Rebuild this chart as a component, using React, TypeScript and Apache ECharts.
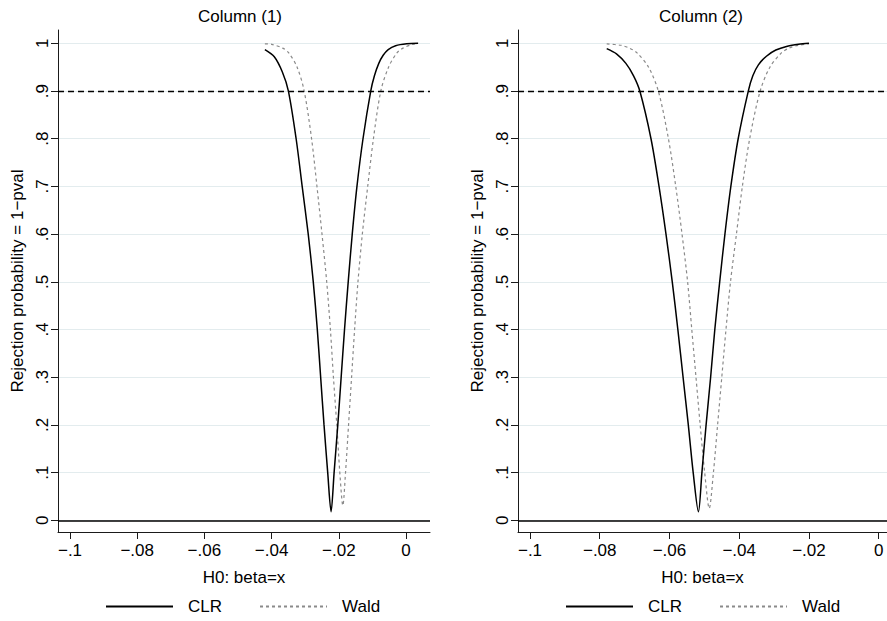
import React, { useEffect, useRef } from 'react';
import * as echarts from 'echarts';

// ---- data ----
const panelTitles = ['Column (1)', 'Column (2)'];
const seriesNames = ['CLR', 'Wald'];
const xTicks = [-0.1, -0.08, -0.06, -0.04, -0.02, 0];
const yTicks = [0, 0.1, 0.2, 0.3, 0.4, 0.5, 0.6, 0.7, 0.8, 0.9, 1];
const refLines = [0, 0.9];
const xTitle = 'H0: beta=x';
const yTitle = 'Rejection probability = 1\u2212pval';

const clr1: [number, number][] = [
  [-0.042, 0.987], [-0.0392, 0.972], [-0.0368, 0.94], [-0.035, 0.9], [-0.0327, 0.8],
  [-0.0309, 0.7], [-0.0291, 0.6], [-0.0276, 0.5], [-0.0264, 0.4], [-0.0254, 0.3],
  [-0.0244, 0.2], [-0.0233, 0.1], [-0.0223, 0.018], [-0.0214, 0.1], [-0.0203, 0.2],
  [-0.0193, 0.3], [-0.0183, 0.4], [-0.0172, 0.5], [-0.016, 0.6], [-0.0146, 0.7],
  [-0.0128, 0.8], [-0.0105, 0.9], [-0.0094, 0.932], [-0.0081, 0.958], [-0.0068, 0.975],
  [-0.0053, 0.987], [-0.0031, 0.995], [0.0002, 0.999], [0.0036, 1.0],
];
const wald1: [number, number][] = [
  [-0.042, 0.999], [-0.04, 0.998], [-0.0367, 0.99], [-0.0349, 0.98], [-0.0324, 0.95],
  [-0.0303, 0.9], [-0.0281, 0.8], [-0.0265, 0.7], [-0.0250, 0.6], [-0.0236, 0.5],
  [-0.0225, 0.4], [-0.0216, 0.3], [-0.0206, 0.2], [-0.0197, 0.1], [-0.0188, 0.031],
  [-0.018, 0.1], [-0.0171, 0.2], [-0.0162, 0.3], [-0.0153, 0.4], [-0.0143, 0.5],
  [-0.013, 0.6], [-0.0114, 0.7], [-0.0097, 0.8], [-0.0075, 0.9], [-0.0052, 0.95],
  [-0.0027, 0.98], [-0.0009, 0.99], [0.002, 0.998], [0.0036, 0.999],
];
const clr2: [number, number][] = [
  [-0.078, 0.989], [-0.0752, 0.978], [-0.0725, 0.958], [-0.0703, 0.932], [-0.0685, 0.9],
  [-0.0653, 0.8], [-0.063, 0.7], [-0.061, 0.6], [-0.0592, 0.5], [-0.0576, 0.4],
  [-0.0561, 0.3], [-0.0546, 0.2], [-0.0532, 0.1], [-0.0517, 0.018], [-0.0507, 0.1],
  [-0.0495, 0.2], [-0.0482, 0.3], [-0.047, 0.4], [-0.0456, 0.5], [-0.0441, 0.6],
  [-0.0424, 0.7], [-0.0403, 0.8], [-0.0374, 0.9], [-0.0361, 0.932], [-0.0345, 0.955],
  [-0.0322, 0.973], [-0.0295, 0.986], [-0.0262, 0.994], [-0.023, 0.998], [-0.02, 1.0],
];
const wald2: [number, number][] = [
  [-0.078, 0.999], [-0.074, 0.996], [-0.0715, 0.99], [-0.0693, 0.98], [-0.066, 0.95],
  [-0.0632, 0.9], [-0.0603, 0.8], [-0.0582, 0.7], [-0.0564, 0.6], [-0.0548, 0.5],
  [-0.0536, 0.4], [-0.0524, 0.3], [-0.0512, 0.2], [-0.0499, 0.1], [-0.0486, 0.025],
  [-0.0474, 0.1], [-0.0462, 0.2], [-0.045, 0.3], [-0.0438, 0.4], [-0.0425, 0.5],
  [-0.0408, 0.6], [-0.0391, 0.7], [-0.037, 0.8], [-0.034, 0.9], [-0.0312, 0.95],
  [-0.0279, 0.98], [-0.0257, 0.99], [-0.023, 0.996], [-0.02, 0.999],
];
const panelData = [
  [clr1, wald1],
  [clr2, wald2],
];

// ---- layout / style ----
const FONT = '"Liberation Sans", Arial, Helvetica, sans-serif';
const FS = 17;
const grids = [
  { left: 58, top: 30, width: 372, height: 502 },
  { left: 518, top: 30, width: 369, height: 502 },
];
const xRanges = [
  [-0.10357, 0.00714],
  [-0.10344, 0.00238],
];
const yRange = [-0.0245, 1.028];
const titleCenters = [235, 696];
const legendLefts = [105, 565];

const fmt = (v: number) => {
  if (Math.abs(v) < 1e-9) return '0';
  const s = String(+Math.abs(v).toFixed(2)).replace(/^0/, '');
  return (v < 0 ? '\u2212' : '') + s;
};

export default function App() {
  const ref = useRef<HTMLDivElement>(null);
  useEffect(() => {
    if (!ref.current) return;
    const chart = echarts.init(ref.current, undefined, { renderer: 'svg' });
    const axisColor = '#1a1a1a';
    const option: any = {
      animation: false,
      backgroundColor: '#fff',
      textStyle: { fontFamily: FONT },
      title: panelTitles.map((t, i) => ({
        text: t,
        left: titleCenters[i],
        top: 3,
        textAlign: 'center',
        textStyle: { fontSize: FS, fontWeight: 'normal', color: '#000', fontFamily: FONT },
      })),
      legend: legendLefts.map((l) => ({
        left: l,
        top: 598,
        padding: 0,
        itemWidth: 67,
        itemHeight: 14,
        itemGap: 37,
        selectedMode: false,
        data: seriesNames,
        itemStyle: { opacity: 0, borderWidth: 0 },
        textStyle: { fontSize: FS, color: '#000', fontFamily: FONT, padding: [0, 0, 0, 10] },
      })),
      grid: grids,
      xAxis: grids.map((_, i) => ({
        type: 'value',
        gridIndex: i,
        min: xRanges[i][0],
        max: xRanges[i][1],
        name: xTitle,
        nameLocation: 'middle',
        nameGap: 37,
        nameTextStyle: { fontSize: FS, color: '#000', fontFamily: FONT },
        axisLine: { show: true, onZero: false, lineStyle: { color: axisColor, width: 1 } },
        axisTick: { show: true, length: 7, customValues: xTicks, lineStyle: { color: axisColor, width: 1 } },
        axisLabel: { customValues: xTicks, formatter: fmt, fontSize: FS, color: '#000', margin: 10, fontFamily: FONT },
        splitLine: { show: false },
      })),
      yAxis: grids.map((_, i) => ({
        type: 'value',
        gridIndex: i,
        min: yRange[0],
        max: yRange[1],
        name: yTitle,
        nameLocation: 'middle',
        nameGap: 32,
        nameTextStyle: { fontSize: FS, color: '#000', fontFamily: FONT },
        axisLine: { show: true, onZero: false, lineStyle: { color: axisColor, width: 1 } },
        axisTick: { show: true, length: 7, customValues: yTicks, lineStyle: { color: axisColor, width: 1 } },
        axisLabel: { customValues: yTicks, formatter: fmt, rotate: 90, fontSize: FS, color: '#000', margin: 7, fontFamily: FONT },
        splitLine: { show: true, lineStyle: { color: '#e3ecee', width: 1 } },
      })),
      series: panelData.flatMap((pair, i) => [
        {
          name: seriesNames[0],
          type: 'line',
          xAxisIndex: i,
          yAxisIndex: i,
          data: pair[0],
          symbol: 'none',
          smooth: 0.3,
          lineStyle: { color: '#000', width: 1.5 },
          itemStyle: { color: '#000' },
          z: 3,
          markLine: {
            silent: true,
            symbol: ['none', 'none'],
            label: { show: false },
            data: refLines.map((v) => ({
              yAxis: v,
              lineStyle: v === 0
                ? { type: 'solid', width: 1.5, color: '#000' }
                : { type: [6, 4], width: 1.3, color: '#000' },
            })),
          },
        },
        {
          name: seriesNames[1],
          type: 'line',
          xAxisIndex: i,
          yAxisIndex: i,
          data: pair[1],
          symbol: 'none',
          smooth: 0.3,
          lineStyle: { color: '#8a8a8a', width: 1.2, type: [3, 3] },
          itemStyle: { color: '#8a8a8a' },
          z: 2,
        },
      ]),
    };
    chart.setOption(option);
    return () => chart.dispose();
  }, []);
  return (
    <div
      ref={ref}
      style={{ position: 'absolute', left: 0, top: 0, width: 887, height: 621, background: '#fff' }}
    />
  );
}
